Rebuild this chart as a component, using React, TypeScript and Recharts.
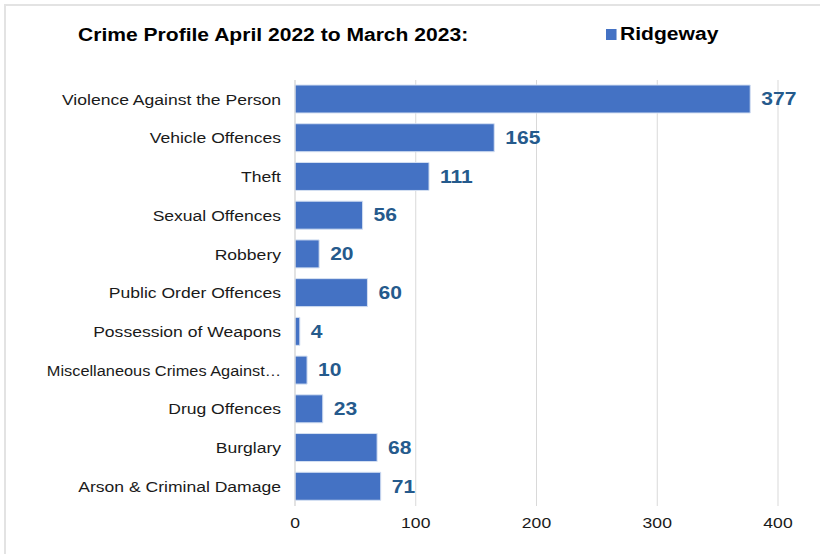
import React from 'react';
import { BarChart, Bar, XAxis, YAxis, CartesianGrid, Legend, LabelList } from 'recharts';

const categories = [
  'Violence Against the Person',
  'Vehicle Offences',
  'Theft',
  'Sexual Offences',
  'Robbery',
  'Public Order Offences',
  'Possession of Weapons',
  'Miscellaneous Crimes Against Society',
  'Drug Offences',
  'Burglary',
  'Arson & Criminal Damage',
];
const ridgeway = [377, 165, 111, 56, 20, 60, 4, 10, 23, 68, 71];
const xTicks = [0, 100, 200, 300, 400];

const data = categories.map((name, i) => ({ name, Ridgeway: ridgeway[i] }));

const font = 'Arial, "Liberation Sans", sans-serif';
// the original text is a little wide, so stretch it sideways
const SX = 1.17;

const shorten = (s: string) => (s.length > 28 ? s.slice(0, 28) + '…' : s);

const LegendBox = () => (
  <div
    style={{
      display: 'flex',
      alignItems: 'center',
      fontFamily: font,
      fontWeight: 'bold',
      fontSize: 18,
      color: '#000',
      transform: `scaleX(${SX})`,
      transformOrigin: 'left center',
      whiteSpace: 'nowrap',
    }}
  >
    <span style={{ width: 9, height: 11, background: '#4472C4', display: 'inline-block', marginRight: 3 }} />
    Ridgeway
  </div>
);

const CatTick = (props: any) => {
  const { x, y, payload } = props;
  const label = shorten(payload.value);
  // the long truncated label is a bit tighter in the original
  const sx = label.endsWith('…') ? 1.09 : SX;
  return (
    <text
      transform={`translate(${x},${y}) scale(${sx},1)`}
      textAnchor="end"
      dy="0.35em"
      fill="#1a1a1a"
      fontSize={15}
      fontFamily={font}
    >
      {label}
    </text>
  );
};

const NumTick = (props: any) => {
  const { x, y, payload } = props;
  return (
    <text
      transform={`translate(${x},${y}) scale(${SX},1)`}
      textAnchor="middle"
      dy="0.71em"
      fill="#1a1a1a"
      fontSize={15}
      fontFamily={font}
    >
      {payload.value}
    </text>
  );
};

const ValueLabel = (props: any) => {
  const { x, y, width, height, value } = props;
  return (
    <text
      transform={`translate(${x + width + 11},${y + height / 2}) scale(${SX},1)`}
      textAnchor="start"
      dy="0.35em"
      fill="#255A8C"
      fontSize={18}
      fontWeight="bold"
      fontFamily={font}
    >
      {value}
    </text>
  );
};

export default function App() {
  return (
    <div style={{ position: 'relative', width: 820, height: 554, background: '#fff', overflow: 'hidden' }}>
      <style>{`body{margin:0}`}</style>
      <div
        style={{
          position: 'absolute',
          left: 4,
          top: 4,
          width: 900,
          height: 600,
          borderTop: '2px solid #e3e3e3',
          borderLeft: '2px solid #e3e3e3',
        }}
      />
      <div
        style={{
          position: 'absolute',
          left: 78,
          top: 25,
          fontFamily: font,
          fontWeight: 'bold',
          fontSize: 18,
          color: '#000',
          transform: `scaleX(${SX})`,
          transformOrigin: 'left top',
          whiteSpace: 'nowrap',
        }}
      >
        Crime Profile April 2022 to March 2023:
      </div>
      <BarChart
        width={820}
        height={554}
        data={data}
        layout="vertical"
        margin={{ top: 80, right: 42, bottom: 18, left: 0 }}
        style={{ position: 'absolute', left: 0, top: 0 }}
      >
        <CartesianGrid horizontal={false} stroke="#d9d9d9" />
        <XAxis
          type="number"
          domain={[0, 400]}
          ticks={xTicks}
          axisLine={false}
          tickLine={false}
          tickSize={0}
          tickMargin={11}
          height={30}
          tick={<NumTick />}
        />
        <YAxis
          type="category"
          dataKey="name"
          width={295}
          axisLine={{ stroke: '#d9d9d9' }}
          tickLine={false}
          tickSize={0}
          tickMargin={14}
          interval={0}
          tick={<CatTick />}
        />
        <Legend
          layout="horizontal"
          verticalAlign="middle"
          align="center"
          content={<LegendBox />}
          wrapperStyle={{ position: 'absolute', top: 24, left: 606, width: 'auto' }}
        />
        <Bar dataKey="Ridgeway" fill="#4472C4" stroke="#d5e0f2" strokeWidth={1} barSize={28} isAnimationActive={false}>
          <LabelList dataKey="Ridgeway" content={<ValueLabel />} />
        </Bar>
      </BarChart>
    </div>
  );
}
